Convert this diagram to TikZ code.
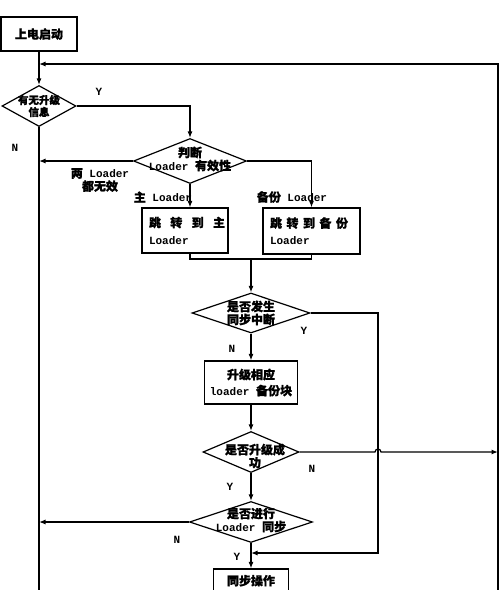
\documentclass[tikz,border=0pt]{standalone}
\usepackage{fontspec}
\setmainfont{Liberation Mono}
\newfontfamily\cjk[FakeBold=1.2]{Noto Sans CJK SC}
\newfontfamily\cjkb[FakeBold=1.6]{Noto Sans CJK SC}
\newcommand\zhtxt[1]{{\cjk\fontsize{12}{13}\selectfont #1}}
\newcommand\zhsmall[1]{{\cjkb\fontsize{10.5}{12}\selectfont #1}}
\usetikzlibrary{shapes.geometric,arrows.meta}
\begin{document}
\begin{tikzpicture}[x=1pt,y=-1pt,line width=1.2pt,
  font=\bfseries\fontsize{11}{13}\selectfont,
  box/.style={draw,rectangle,inner sep=0pt},
  dia/.style={draw,diamond,inner sep=0pt},
  txt/.style={align=center,inner sep=0pt},
  lab/.style={inner sep=0pt,align=center},
  arr/.style={-{Latex[length=6.5pt,width=5pt]}}]
\useasboundingbox (0,0) rectangle (500,590);
\clip (0,0) rectangle (500,590);

% nodes
\node[box,minimum width=76,minimum height=34] (start) at (39,34) {\zhtxt{上电启动}};
\node[dia,minimum width=74,minimum height=41,
  label={[txt,font=\bfseries\fontsize{10.5}{12}\selectfont]center:{\zhsmall{有无升级}\\\zhsmall{信息}}}] (d1) at (39,106) {};
\node[dia,minimum width=113,minimum height=45,
  label={[txt,yshift=2pt]center:{\zhtxt{判断}\\Loader \zhtxt{有效性}}}] (d2) at (190,161) {};
\node[box,minimum width=86,minimum height=45,text width=72pt,inner xsep=7pt,align=left] (b1) at (185,230.5)
  {\hbox to 76pt{\zhtxt{跳}\hfill\zhtxt{转}\hfill\zhtxt{到}\hfill\zhtxt{主}}\\[4pt]Loader};
\node[box,minimum width=97,minimum height=46,text width=83pt,inner xsep=7pt,align=left] (b2) at (311.5,231)
  {\hbox to 78pt{\zhtxt{跳}\hfill\zhtxt{转}\hfill\zhtxt{到}\hfill\zhtxt{备}\hfill\zhtxt{份}}\\[4pt]Loader};
\node[dia,minimum width=118,minimum height=40,
  label={[txt]center:{\zhtxt{是否发生}\\\zhtxt{同步中断}}}] (d3) at (251,313) {};
\node[box,minimum width=93,minimum height=43,align=center] (b3) at (251,382.5)
  {\zhtxt{升级相应}\\[3pt]loader \zhtxt{备份块}};
\node[dia,minimum width=96,minimum height=41,
  label={[txt,xshift=4pt,yshift=-4pt]center:{\zhtxt{是否升级成}\\\zhtxt{功}}}] (d4) at (251,452) {};
\node[dia,minimum width=123,minimum height=41,
  label={[txt,yshift=2pt]center:{\zhtxt{是否进行}\\Loader \zhtxt{同步}}}] (d5) at (251,522) {};
\node[box,minimum width=75,minimum height=44,
  label={[txt,anchor=north,yshift=-6pt]north:{\zhtxt{同步操作}}}] (b4) at (251,591) {};

% labels
\node[lab] (y1) at (99,92) {Y};
\node[lab] (n1) at (15,148) {N};
\node[lab] (l2) at (100,180) {\zhtxt{两} Loader\\\zhtxt{都无效}};
\node[lab] (l3) at (163,197) {\zhtxt{主} Loader};
\node[lab] (l4) at (292,197) {\zhtxt{备份} Loader};
\node[lab] (y3) at (304,331) {Y};
\node[lab] (n3) at (232,349) {N};
\node[lab] (n4) at (312,469) {N};
\node[lab] (y4) at (230,487) {Y};
\node[lab] (n5) at (177,540) {N};
\node[lab] (y5) at (237,557) {Y};

% coordinates
\coordinate (rb) at (498,600);
\coordinate (rt) at (498,64);
\coordinate (lb) at (39,600);
\coordinate (j) at (251,259);
\coordinate (yr) at (378,553);

% connectors
\draw[arr] (start) -- (d1);
\draw[arr] (rb) -- (rt) -- (rt -| start.south);
\draw[arr] (d1.east) -| (d2.north);
\draw (d1.south) -- (lb);
\draw[arr] (d2.west) -- (d2.west -| d1.south);
\draw[arr] (d2.south) -- (d2.south |- b1.north);
\draw[arr] (d2.east) -| (b2.north);
\draw (b1.south -| d2.south) -- (d2.south |- j) -- (b2.south |- j) -- (b2.south);
\draw[arr] (j) -- (d3.north);
\draw[arr] (d3.south) -- (b3.north);
\draw[arr] (d3.east) -| (yr) -- (yr -| d5.south);
\draw[arr] (b3.south) -- (d4.north);
\draw[arr] (d4.east) -- ([xshift=-3pt]d4.east -| yr) arc[start angle=180,end angle=0,radius=3pt] -- (d4.east -| rt);
\draw[arr] (d4.south) -- (d5.north);
\draw[arr] (d5.west) -- (d5.west -| d1.south);
\draw[arr] (d5.south) -- (b4.north);
\end{tikzpicture}
\end{document}
